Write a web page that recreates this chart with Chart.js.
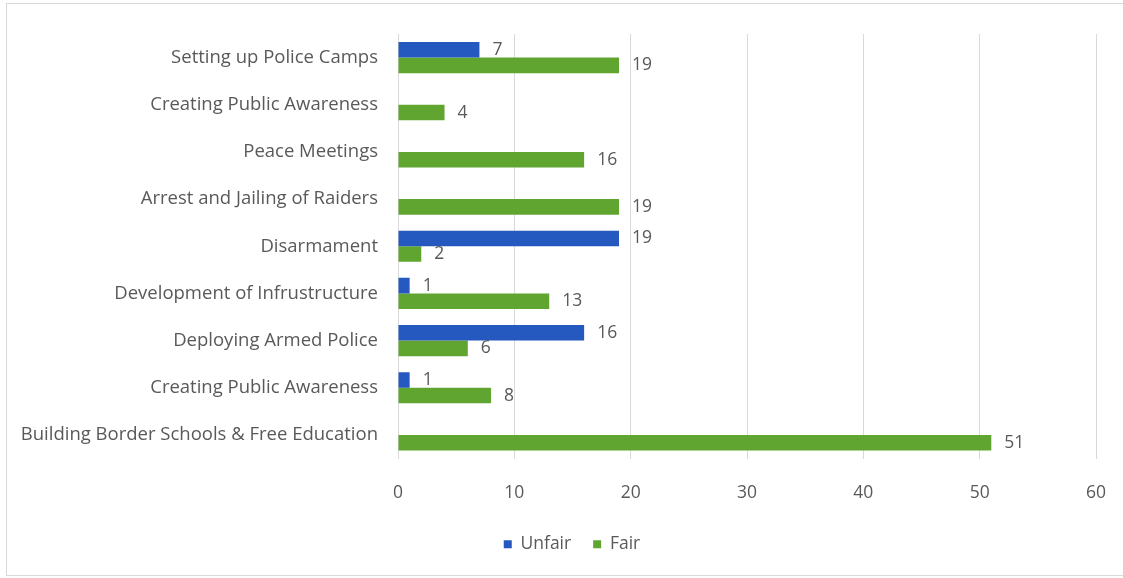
<!DOCTYPE html>
<html>
<head>
<meta charset="utf-8">
<script src="https://cdn.jsdelivr.net/npm/chart.js@4/dist/chart.umd.min.js"></script>
<style>
  html, body { margin: 0; padding: 0; background: #fff; }
  #wrap { width: 1123px; height: 578px; position: relative; }
</style>
</head>
<body>
<div id="wrap"><canvas id="measuresChart" width="1123" height="578"></canvas></div>
<script>
// categories, top to bottom
const categories = [
    'Setting up Police Camps',
    'Creating Public Awareness',
    'Peace Meetings',
    'Arrest and Jailing of Raiders',
    'Disarmament',
    'Development of Infrustructure',
    'Deploying Armed Police',
    'Creating Public Awareness',
    'Building Border Schools & Free Education'
];
const unfairValues = [7, 0, 0, 0, 19, 1, 16, 1, 0];
const fairValues = [19, 4, 16, 19, 2, 13, 6, 8, 51];
const xTicks = [0, 10, 20, 30, 40, 50, 60];

const textColor = '#595959';
const fontFamily = '"Open Sans", "Noto Sans", sans-serif';
const fontSize = 17.5;

// light frame round the whole chart
const framePlugin = {
    id: 'frame',
    beforeDraw(chart) {
        const ctx = chart.ctx;
        ctx.save();
        ctx.fillStyle = '#fff';
        ctx.fillRect(0, 0, chart.width, chart.height);
        ctx.strokeStyle = '#d9d9d9';
        ctx.lineWidth = 1;
        ctx.strokeRect(6.5, 3.5, chart.width + 10, 572);
        ctx.restore();
    }
};

// nudge the legend a little to the right, under the bars
const legendShift = {
    id: 'legendShift',
    afterLayout(chart) {
        chart.legend.left += 24;
        chart.legend.right += 24;
    }
};

// value labels at the end of each bar
const valueLabels = {
    id: 'valueLabels',
    afterDatasetsDraw(chart) {
        const ctx = chart.ctx;
        ctx.save();
        ctx.font = fontSize + 'px ' + fontFamily;
        ctx.fillStyle = textColor;
        ctx.textAlign = 'left';
        ctx.textBaseline = 'middle';
        chart.data.datasets.forEach((ds, i) => {
            chart.getDatasetMeta(i).data.forEach((bar, j) => {
                const v = ds.data[j];
                if (!v) return;
                ctx.fillText(String(v), bar.x + 13, bar.y);
            });
        });
        ctx.restore();
    }
};

const ctx = document.getElementById('measuresChart').getContext('2d');
new Chart(ctx, {
    type: 'bar',
    data: {
        labels: categories,
        datasets: [
            {
                label: 'Unfair',
                data: unfairValues,
                backgroundColor: '#2559c0',
                categoryPercentage: 0.66,
                barPercentage: 1.0
            },
            {
                label: 'Fair',
                data: fairValues,
                backgroundColor: '#5fa530',
                categoryPercentage: 0.66,
                barPercentage: 1.0
            }
        ]
    },
    options: {
        indexAxis: 'y',
        responsive: false,
        animation: false,
        layout: {
            padding: { top: 34, right: 27, bottom: 15, left: 0 }
        },
        plugins: {
            legend: {
                position: 'bottom',
                labels: {
                    boxWidth: 8,
                    boxHeight: 8,
                    padding: 22,
                    color: textColor,
                    font: { family: fontFamily, size: fontSize }
                }
            },
            tooltip: { enabled: false }
        },
        scales: {
            x: {
                min: 0,
                max: 60,
                afterBuildTicks(scale) {
                    scale.ticks = xTicks.map(v => ({ value: v }));
                },
                afterFit(scale) {
                    scale.height = 55;
                    scale.paddingRight = 0;
                },
                grid: {
                    color: '#d9d9d9',
                    drawTicks: false
                },
                border: { display: false },
                ticks: {
                    padding: 24,
                    color: textColor,
                    font: { family: fontFamily, size: fontSize }
                }
            },
            y: {
                afterFit(scale) {
                    scale.width = 398;
                },
                grid: { display: false, drawTicks: false },
                border: { display: false },
                ticks: {
                    padding: 20,
                    color: textColor,
                    font: { family: fontFamily, size: 18.5 }
                }
            }
        }
    },
    plugins: [framePlugin, legendShift, valueLabels]
});
</script>
</body>
</html>
